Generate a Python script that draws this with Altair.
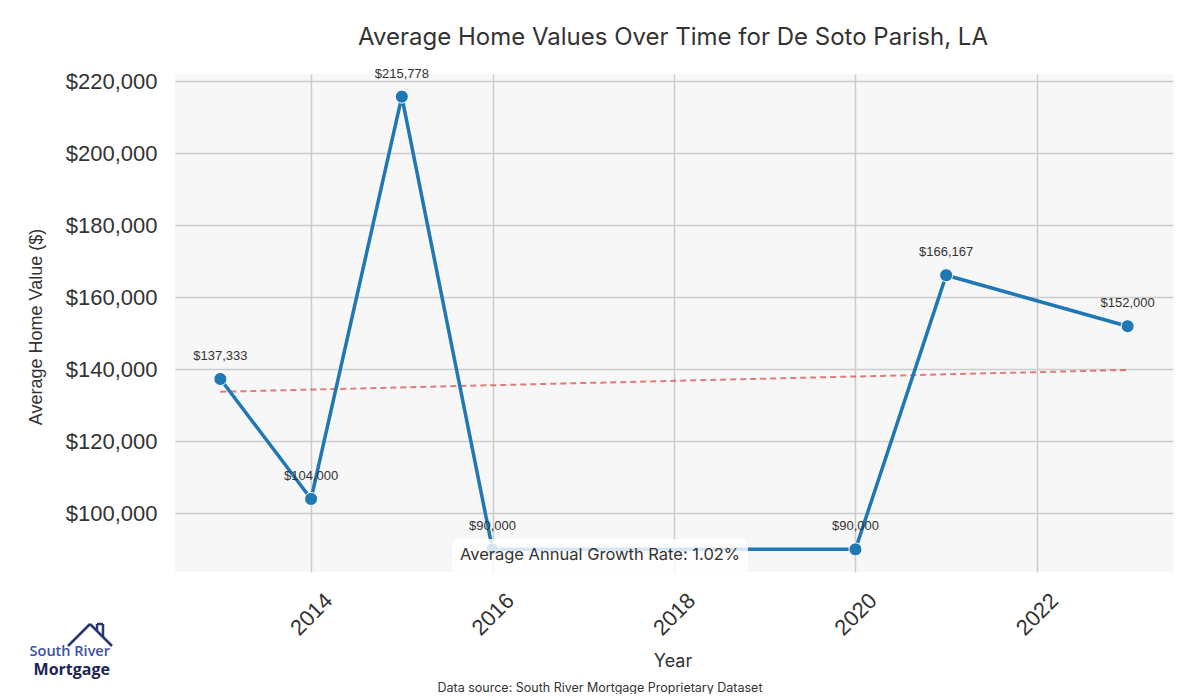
import altair as alt
import pandas as pd

# ---------------- data ----------------
years = [2013, 2014, 2015, 2016, 2020, 2021, 2023]
values = [137333, 104000, 215778, 90000, 90000, 166167, 152000]
x_ticks = [2014, 2016, 2018, 2020, 2022]
y_ticks = [100000, 120000, 140000, 160000, 180000, 200000, 220000]
x_domain = [2012.5, 2023.5]
y_domain = [83711, 222067]

title_text = "Average Home Values Over Time for De Soto Parish, LA"
x_title = "Year"
y_title = "Average Home Value ($)"
growth_text = "Average Annual Growth Rate: 1.02%"
source_text = "Data source: South River Mortgage Proprietary Dataset"
logo_line1 = "South River"
logo_line2 = "Mortgage"

df = pd.DataFrame({"Year": years, "Value": values})

W, H = 998, 498
TXT = "#333333"
TICK_FONT = "Liberation Sans"
TITLE_FONT = "Inter"

x_enc = alt.X(
    "Year:Q",
    scale=alt.Scale(domain=x_domain, nice=False, zero=False),
    axis=alt.Axis(
        values=x_ticks, format="d", title=None, labelAngle=-45,
        labelAlign="center", labelBaseline="middle", labelPadding=42,
        ticks=False, tickSize=0, domain=False, grid=True,
        labelFontSize=22, labelFont=TICK_FONT, labelColor=TXT,
        gridColor="#cccccc", gridWidth=1.5,
    ),
)
y_enc = alt.Y(
    "Value:Q",
    scale=alt.Scale(domain=y_domain, nice=False, zero=False),
    axis=alt.Axis(
        values=y_ticks, format="$,.0f", title=None, labelPadding=18,
        ticks=False, tickSize=0, domain=False, grid=True,
        labelFontSize=22, labelFont=TICK_FONT, labelColor=TXT,
        gridColor="#cccccc", gridWidth=1.5,
    ),
)

base = alt.Chart(df)

trend = base.transform_regression("Year", "Value").mark_line(
    color="#d62728", opacity=0.6, strokeDash=[6, 4], strokeWidth=2
).encode(x=x_enc, y=y_enc)

line = base.mark_line(color="#1f77b4", strokeWidth=3.5).encode(x=x_enc, y=y_enc)

pts = base.mark_point(
    filled=True, size=170, color="#1f77b4", stroke="white", strokeWidth=1, opacity=1
).encode(x=x_enc, y=y_enc)

lbls = base.mark_text(
    dy=-23, fontSize=13, font=TICK_FONT, color=TXT
).encode(x=x_enc, y=y_enc, text=alt.Text("Value:Q", format="$,.0f"))

one = pd.DataFrame({"k": [0]})

box = alt.Chart(one).mark_rect(fill="white", opacity=0.82, cornerRadius=8).encode(
    x=alt.value(277), x2=alt.value(573), y=alt.value(465), y2=alt.value(498)
)

def txt(s, x, y, size, font, color=TXT, angle=0, weight="normal", align="center"):
    return alt.Chart(pd.DataFrame({"t": [s]})).mark_text(
        fontSize=size, font=font, color=color, angle=angle, fontWeight=weight,
        align=align, baseline="middle",
    ).encode(text="t:N", x=alt.value(x), y=alt.value(y))

growth = txt(growth_text, 425, 481, 16.5, TITLE_FONT)
title = txt(title_text, 498, -36, 24, TITLE_FONT)
xt = txt(x_title, 498, 588, 18, TITLE_FONT)
yt = txt(y_title, -138, 253, 18, TICK_FONT, angle=270)
src = txt(source_text, 425, 614, 12.5, TITLE_FONT)
logo1 = txt(logo_line1, -65, 578, 14.5, "Open Sans", color="#3d4fa5", weight=600, align="right")
logo2 = txt(logo_line2, -65, 596, 16, "Open Sans", color="#1c2554", weight="bold", align="right")

def seg(x1, y1, x2, y2):
    return alt.Chart(one).mark_rule(color="#2b3570", strokeWidth=2.5).encode(
        x=alt.value(x1), y=alt.value(y1), x2=alt.value(x2), y2=alt.value(y2)
    )

roof = [
    seg(-107, 572, -85, 550),
    seg(-85, 550, -63, 572),
    seg(-78, 557, -78, 550),
    seg(-78, 550, -72, 550),
    seg(-72, 550, -72, 563),
]

chart = alt.layer(
    trend, line, pts, lbls, box, growth, title, xt, yt, src, logo1, logo2, *roof
).properties(
    width=W, height=H,
    autosize=alt.AutoSizeParams(type="none"),
    padding={"left": 167, "top": 66, "right": 19, "bottom": 122},
    background="white",
).configure_view(fill="#f7f7f7", stroke=None)

chart.save("out.html", embed_options={"renderer": "svg", "actions": False})
